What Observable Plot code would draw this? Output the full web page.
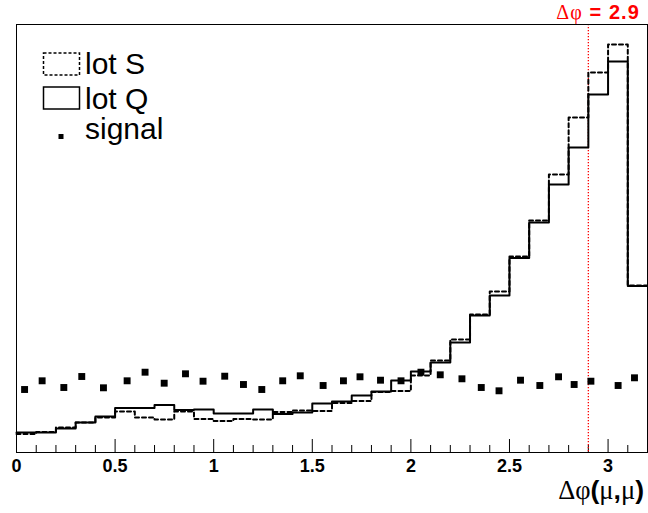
<!DOCTYPE html>
<html><head><meta charset="utf-8">
<script src="https://cdn.jsdelivr.net/npm/d3@7"></script>
<script src="https://cdn.jsdelivr.net/npm/@observablehq/plot@0.6"></script>
<style>body{margin:0;background:#fff} #chart svg{display:block}</style>
</head><body><div id="chart"></div>
<script>
// Bin edges of the Δφ(μ,μ) histograms (32 bins of 0.1)
const binEdges = [0,0.1,0.2,0.3,0.4,0.5,0.6,0.7,0.8,0.9,1.0,1.1,1.2,1.3,1.4,1.5,1.6,1.7,1.8,1.9,2.0,2.1,2.2,2.3,2.4,2.5,2.6,2.7,2.8,2.9,3.0,3.1,3.2];
// lot Q (solid) bin contents, arbitrary units
const lotQ = [20,20,24,30,36,44.5,44.5,47.5,42.5,43,39,39,43,38.5,40,49,51,57,61,72,81,90,110,137,157,194.5,230,268,305,358,391,166.5];
// lot S (dashed) bin contents
const lotS = [18.5,20.5,25,30,35,41,35,33,41,33.5,31.5,33.5,33,40.5,42,41.5,49.5,51.5,60.5,61.5,77,92,113,138,161,196,232,278,335,380,408,167];
// signal points
const signalX = [0.041,0.130,0.240,0.331,0.441,0.561,0.652,0.749,0.857,0.946,1.056,1.151,1.244,1.350,1.439,1.555,1.658,1.742,1.846,1.950,2.051,2.149,2.259,2.357,2.447,2.556,2.654,2.749,2.828,2.913,3.051,3.134];
const signalY = [63,71.7,65,76,64.7,71.7,80.3,69.3,78.7,71.3,76.3,68,63,71.7,76.7,67,71.7,75.7,72.3,71.7,80.3,77.7,73.7,65,61.7,72.3,67,75.7,68,71.3,67,74.7];
// axis
const majorTicks = [0,0.5,1,1.5,2,2.5,3];
const tickLabels = ["0","0.5","1","1.5","2","2.5","3"];
const minorTicks = [0.1,0.2,0.3,0.4,0.6,0.7,0.8,0.9,1.1,1.2,1.3,1.4,1.6,1.7,1.8,1.9,2.1,2.2,2.3,2.4,2.6,2.7,2.8,2.9,3.1];
const cutValue = 2.9;
const legendLabels = ["lot S","lot Q","signal"];

function stepData(vals){
  const out = vals.map((v,i)=>({x: binEdges[i], y: v}));
  out.push({x: binEdges[vals.length], y: vals[vals.length-1]});
  return out;
}
const signal = signalX.map((x,i)=>({x, y: signalY[i]}));

const chart = Plot.plot({
  width: 648, height: 513,
  marginLeft: 16, marginRight: 1, marginTop: 24, marginBottom: 61,
  x: {domain: [0, 3.2], axis: null},
  y: {domain: [0, 428], axis: null},
  style: {fontFamily: "'Liberation Sans', Arial, sans-serif", background: "#fff", overflow: "visible"},
  marks: [
    Plot.ruleX(minorTicks, {x: d => d, y1: 0, y2: 7, stroke: "#000", strokeWidth: 1}),
    Plot.ruleX(majorTicks, {x: d => d, y1: 0, y2: 13, stroke: "#000", strokeWidth: 1}),
    Plot.ruleX([cutValue], {x: d => d, stroke: "#ff0000", strokeWidth: 1.3, strokeDasharray: "1.3,1.7"}),
    Plot.line(stepData(lotS), {x: "x", y: "y", curve: "step-after", stroke: "#000", strokeWidth: 2, strokeDasharray: "4,3"}),
    Plot.line(stepData(lotQ), {x: "x", y: "y", curve: "step-after", stroke: "#000", strokeWidth: 2}),
    Plot.dot(signal, {x: "x", y: "y", symbol: "square", r: 3.9, fill: "#000", stroke: "none"}),
    Plot.text(majorTicks, {x: d => d, frameAnchor: "bottom", dy: 14, lineAnchor: "middle", text: (d, i) => tickLabels[i], fontSize: 18, fontWeight: "bold", fill: "#000"}),
    Plot.frame({stroke: "#000", strokeWidth: 1})
  ]
});
document.getElementById("chart").appendChild(chart);

const svg = d3.select(chart);
const FONT = "'Liberation Sans', Arial, sans-serif";
// Legend inside frame
const lg = svg.append("g").attr("text-anchor", "start");
lg.append("rect").attr("x", 43.5).attr("y", 53).attr("width", 36).attr("height", 22)
  .attr("fill", "none").attr("stroke", "#000").attr("stroke-width", 1.5).attr("stroke-dasharray", "3,2");
lg.append("rect").attr("x", 43.5).attr("y", 87).attr("width", 36).attr("height", 22)
  .attr("fill", "none").attr("stroke", "#000").attr("stroke-width", 1.5);
lg.append("rect").attr("x", 58.5).attr("y", 134).attr("width", 5).attr("height", 5).attr("fill", "#000");
const ly = [74, 108.5, 138.5];
legendLabels.forEach((t, i) => {
  lg.append("text").attr("x", 85).attr("y", ly[i]).attr("font-size", 30).attr("text-anchor", "start")
    .attr("font-family", FONT).attr("fill", "#000").text(t);
});
// Red cut label
const rt = svg.append("text").attr("x", 640).attr("y", 18.5).attr("text-anchor", "end")
  .attr("font-size", 20).attr("letter-spacing", 1.1).attr("fill", "#ff0000").attr("font-family", FONT);
rt.append("tspan").attr("font-family", "'Liberation Serif', serif").text("Δφ");
rt.append("tspan").attr("font-weight", "bold").text(" = " + cutValue);
// x axis title
const xt = svg.append("text").attr("x", 644).attr("y", 499).attr("text-anchor", "end")
  .attr("font-size", 26.5).attr("fill", "#000").attr("font-family", "'Liberation Serif', serif");
xt.append("tspan").text("Δφ");
xt.append("tspan").attr("font-weight", "bold").attr("font-family", FONT).text("(");
xt.append("tspan").text("μ");
xt.append("tspan").attr("font-weight", "bold").attr("font-family", FONT).text(",");
xt.append("tspan").text("μ");
xt.append("tspan").attr("font-weight", "bold").attr("font-family", FONT).text(")");
</script>
</body></html>
